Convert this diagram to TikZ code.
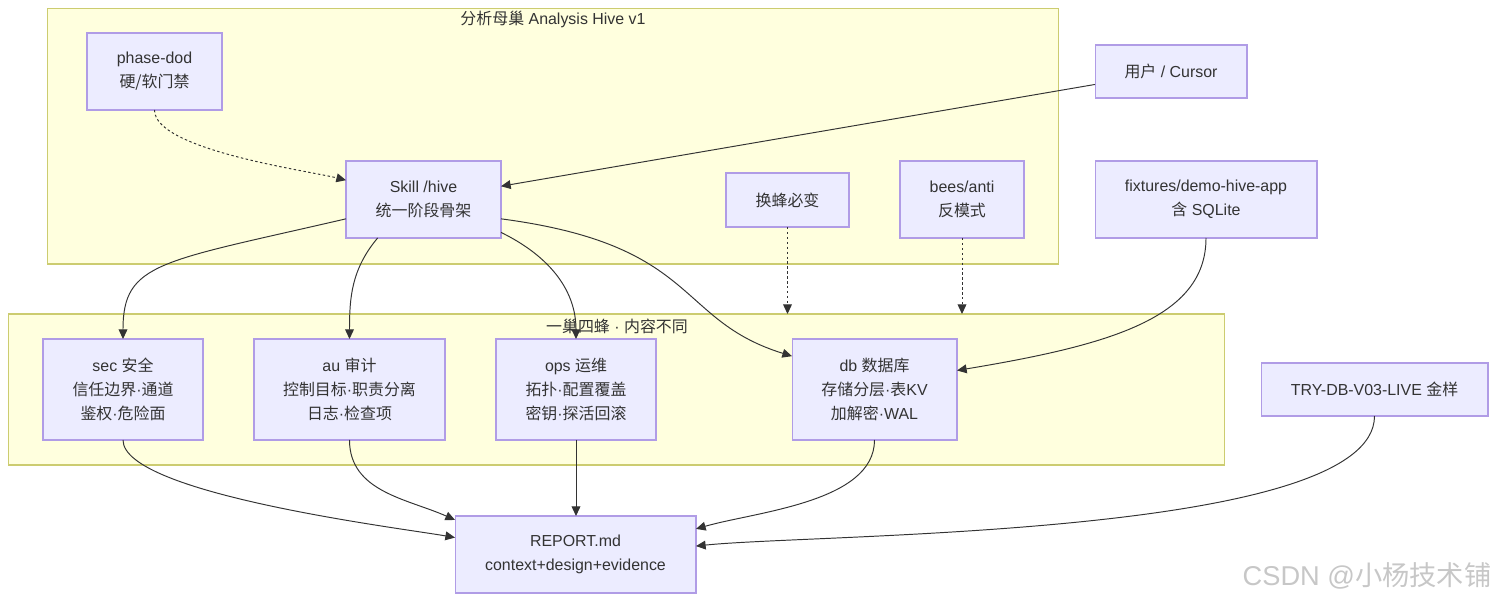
\documentclass[tikz,border=0pt]{standalone}
\usepackage{fontspec}
\setmainfont{Liberation Sans}
\newfontfamily\zhfont{Noto Sans CJK SC}
\usetikzlibrary{arrows.meta}
\definecolor{boxfill}{HTML}{ECECFF}
\definecolor{boxline}{HTML}{B09CE6}
\definecolor{hivefill}{HTML}{FFFFDE}
\definecolor{hiveline}{HTML}{CCCC70}
\definecolor{ink}{HTML}{333333}
\newcommand{\zh}[1]{{\zhfont #1}}
\tikzset{
  box/.style={draw=boxline, fill=boxfill, line width=0.6pt, inner sep=0pt, outer sep=0pt,
    align=center, text=ink, font=\fontsize{9.07pt}{13.6pt}\selectfont},
  cluster/.style={draw=hiveline, fill=hivefill, line width=0.6pt, inner sep=0pt, outer sep=0pt},
  clustertitle/.style={text=ink, inner sep=0pt, font=\fontsize{9.07pt}{11pt}\selectfont},
  flow/.style={draw=ink, line width=0.55pt, -{Triangle[length=5.5pt,width=5pt]}},
  dotflow/.style={flow, dash pattern=on 1.4pt off 1.4pt},
}

\begin{document}
\begin{tikzpicture}[x=0.02cm, y=-0.02cm]
			%%%%% START %%%%%
			\useasboundingbox (0,0) rectangle (1497,602);
			
			% subgraphs
			\node[cluster, minimum width=20.24cm, minimum height=5.12cm] (hive) at (553,136) {};
			\node[clustertitle] (hivetitle) at (553,19) {\zh{分析母巢} Analysis Hive v1};
			\node[cluster, minimum width=24.34cm, minimum height=3.02cm] (fourbee) at (616.5,389.5) {};
			\node[clustertitle] (fourtitle) at (617,326) {\zh{一巢四蜂} · \zh{内容不同}};
			
			% top row
			\node[box, minimum width=2.7cm, minimum height=1.54cm] (phase) at (154.5,71.5) {phase-dod\\\zh{硬/软门禁}};
			\node[box, minimum width=3.1cm, minimum height=1.54cm] (skill) at (423.5,199.5) {Skill /hive\\\zh{统一阶段骨架}};
			\node[box, minimum width=2.46cm, minimum height=1.08cm] (swap) at (787.5,200) {\zh{换蜂必变}};
			\node[box, minimum width=2.48cm, minimum height=1.54cm] (bees) at (962,199.5) {bees/anti\\\zh{反模式}};
			\node[box, minimum width=3.04cm, minimum height=1.06cm] (user) at (1171,71.5) {\zh{用户} / Cursor};
			\node[box, minimum width=4.44cm, minimum height=1.54cm] (fixtures) at (1206,199.5) {fixtures/demo-hive-app\\\zh{含} SQLite};
			
			% the four bees
			\node[box, minimum width=3.2cm, minimum height=2.02cm] (sec) at (123,389.5) {sec \zh{安全}\\\zh{信任边界}·\zh{通道}\\\zh{鉴权}·\zh{危险面}};
			\node[box, minimum width=3.82cm, minimum height=2.02cm] (au) at (349.5,389.5) {au \zh{审计}\\\zh{控制目标}·\zh{职责分离}\\\zh{日志}·\zh{检查项}};
			\node[box, minimum width=3.2cm, minimum height=2.02cm] (ops) at (576,389.5) {ops \zh{运维}\\\zh{拓扑}·\zh{配置覆盖}\\\zh{密钥}·\zh{探活回滚}};
			\node[box, minimum width=3.3cm, minimum height=2.02cm] (db) at (874.5,389.5) {db \zh{数据库}\\\zh{存储分层}·\zh{表}KV\\\zh{加解密}·WAL};
			\node[box, minimum width=4.54cm, minimum height=1.06cm] (try) at (1374.5,389.5) {TRY-DB-V03-LIVE \zh{金样}};
			
			\node[box, minimum width=4.82cm, minimum height=1.54cm] (report) at (575.5,554.5) {REPORT.md\\context+design+evidence};
			
			% connectors
			\draw[dotflow] (phase) to[out=-90, in=166, looseness=0.5] (skill);
			\draw[flow] (user) -- (skill);
			\draw[flow] (skill.194) .. controls (160,262) and (123,262) .. (sec.north);
			\draw[flow] (skill.220) to[out=-130, in=90] (au.north);
			\draw[flow] (skill.337) to[out=-26, in=90] (ops.north);
			\draw[flow] (skill.346) .. controls (700,245) and (675,320) .. (db.158);
			\draw[dotflow] (swap) -- (swap |- fourbee.north);
			\draw[dotflow] (bees) -- (bees |- fourbee.north);
			\draw[flow] (fixtures.south) .. controls (1206,318) and (1110,345) .. (db.13);
			
			\draw[flow] (sec.south) to[out=-90, in=170, looseness=0.4] (report.172);
			\draw[flow] (au.south) to[out=-90, in=156] (report.164);
			\draw[flow] (ops) -- (ops |- report.north);
			\draw[flow] (db.south) to[out=-90, in=16, looseness=0.8] (report.12);
			\draw[flow] (try.south) to[out=-90, in=6, looseness=0.45] (report.4);
			
			% watermark
			\node[text=black!22, inner sep=0pt, font=\fontsize{15.5pt}{17pt}\selectfont] (mark) at (1367,576) {CSDN @\zh{小杨技术铺}};
			%%%%% END %%%%%
\end{tikzpicture}
\end{document}
